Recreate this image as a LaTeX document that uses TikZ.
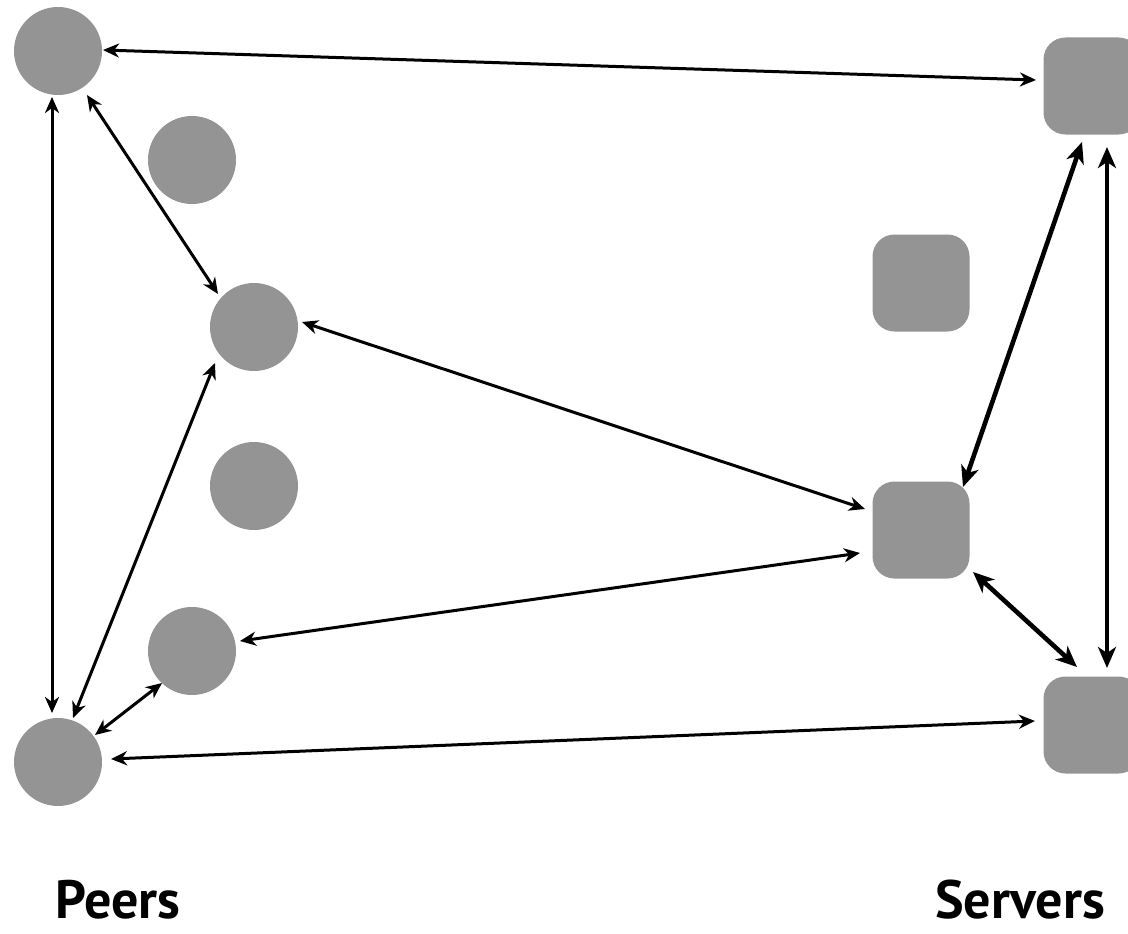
\documentclass[tikz,border=0pt]{standalone}
\usepackage{fontspec}
\setmainfont{PT Sans}
\usetikzlibrary{arrows.meta,calc}
\definecolor{nodegray}{HTML}{949494}
\tikzset{
  peer/.style={circle,fill=nodegray,minimum size=88pt,inner sep=0pt},
  server/.style={rectangle,rounded corners=22pt,fill=nodegray,minimum size=97pt,inner sep=0pt},
  link/.style={line width=3pt,{Stealth[length=16pt,width=14pt,inset=5pt]}-{Stealth[length=16pt,width=14pt,inset=5pt]}},
  thicklink/.style={line width=4.6pt,{Stealth[length=21pt,width=18pt,inset=6pt]}-{Stealth[length=21pt,width=18pt,inset=6pt]}},
  caption/.style={anchor=base west,inner sep=0pt,font=\bfseries\fontsize{54}{54}\selectfont}
}
\begin{document}
\begin{tikzpicture}[x=1pt,y=-1pt]
\useasboundingbox (0,0) rectangle (1128,934);
\clip (0,0) rectangle (1128,934);
\node[peer] (A) at (58,51) {};
\node[peer] (B) at (192,160) {};
\node[peer] (C) at (254,327) {};
\node[peer] (D) at (254,486) {};
\node[peer] (E) at (192,651) {};
\node[peer] (F) at (58,762) {};
\node[server] (S1) at (1092,86) {};
\node[server] (S2) at (921,283) {};
\node[server] (S3) at (921,530) {};
\node[server] (S4) at (1092,725) {};
\draw[link] ($(A)+(45,-1)$) -- ($(S1)+(-56,-6)$);
\draw[link] ($(A)+(-6,46)$) -- ($(F)+(-6,-49)$);
\draw[link] ($(A)+(29,44)$) -- ($(C)+(-36,-33)$);
\draw[link] ($(C)+(48,-5)$) -- ($(S3)+(-56,-21)$);
\draw[link] ($(C)+(-39,36)$) -- ($(F)+(15,-44)$);
\draw[link] ($(E)+(48,-10)$) -- ($(S3)+(-61,23)$);
\draw[link] ($(E)+(-30,32)$) -- ($(F)+(37,-27)$);
\draw[link] ($(F)+(53,-3)$) -- ($(S4)+(-57,-4)$);
\draw[thicklink] ($(S1)+(-10,56)$) -- ($(S3)+(42,-43)$);
\draw[thicklink] ($(S1)+(15,61)$) -- ($(S4)+(15,-57)$);
\draw[thicklink] ($(S3)+(52,42)$) -- ($(S4)+(-15,-58)$);
\node[caption] (peers) at (55,918) {Peers};
\node[caption] (servers) at (935,918) {Servers};
\end{tikzpicture}
\end{document}
